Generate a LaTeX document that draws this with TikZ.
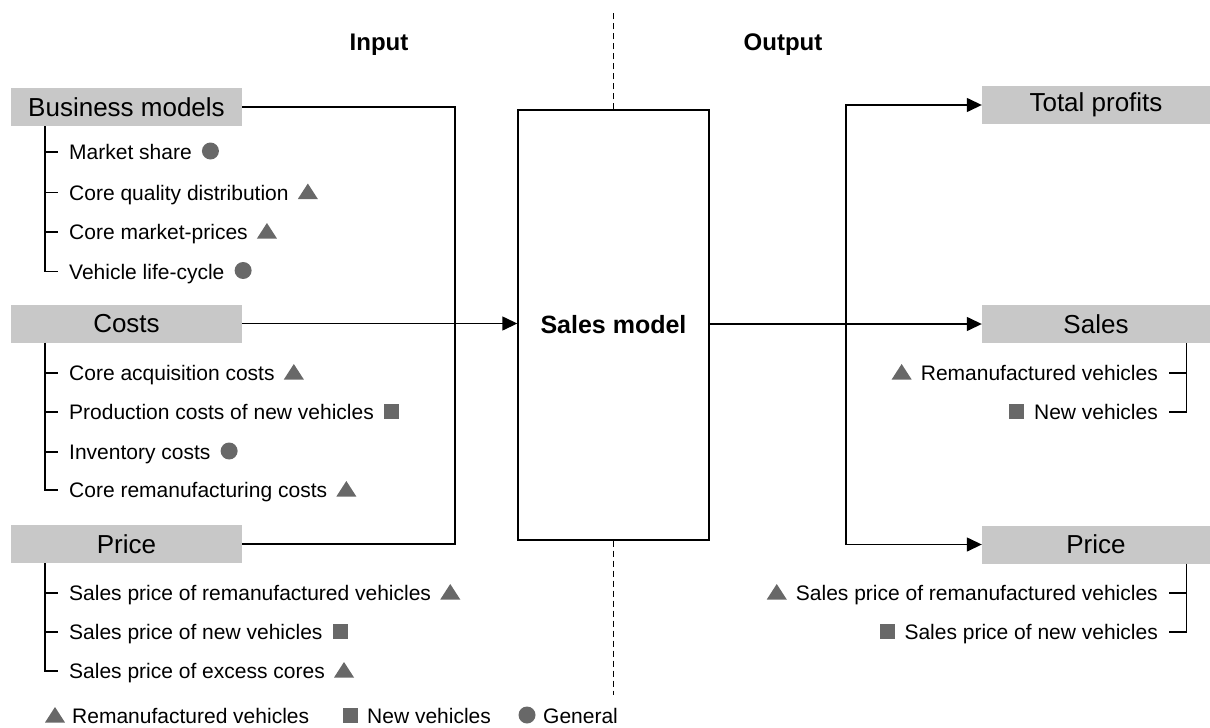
\documentclass[tikz,border=0pt]{standalone}
\usepackage{fontspec}
\setmainfont{Liberation Sans}
\usepackage{tikz}
\definecolor{boxgray}{RGB}{200,200,200}
\definecolor{symgray}{RGB}{104,104,104}
\usetikzlibrary{arrows.meta}
\tikzset{
    tri/.pic = {
    \fill[symgray] (-10,6.5) -- (10,6.5) -- (0,-9) -- cycle;
    },
    sq/.pic = {
    \fill[symgray] (-7.5,-8.5) rectangle (7.5,6.5);
    },
    dot/.pic = {
    \fill[symgray] (0,-1) circle (8.5);
    },
    hdr/.style = {fill=boxgray, minimum height=38pt, inner sep=0pt, font=\fontsize{26}{30}\selectfont},
    item/.style = {anchor=west, inner sep=0pt, text height=15pt, text depth=0pt, font=\fontsize{21}{25}\selectfont},
    ritem/.style = {item, anchor=east},
    flow/.style = {line width=1.4pt, -{Triangle[length=15pt,width=14pt]}}
}

\begin{document}
\begin{tikzpicture}[line join=miter, x=1pt, y=-1pt]
\useasboundingbox (0,0) rectangle (1210,728);
\node [font=\bfseries\fontsize{24}{28}\selectfont] (inp) at (379,45) {Input};
\node [font=\bfseries\fontsize{24}{28}\selectfont] (outp) at (783,45) {Output};
\node [draw, line width=1.4pt, minimum width=191pt, minimum height=430pt, inner sep=0pt, font=\bfseries\fontsize{25}{30}\selectfont] (model) at (613.5,325) {Sales model};
\coordinate (dtop) at (613.5,12);
\coordinate (dbot) at (613.5,695);
\draw [line width=1.3pt, dash pattern=on 6pt off 4pt] (model.north) -- (dtop);
\draw [line width=1.3pt, dash pattern=on 6pt off 4pt] (model.south) -- (dbot);
\node [hdr, minimum width=231pt] (bm) at (126.5,107) {Business models};
\node [hdr, minimum width=231pt] (co) at (126.5,323.5) {Costs};
\node [hdr, minimum width=231pt] (pr) at (126.5,544) {Price};
\node [hdr, minimum width=228pt] (tp) at (1096,105) {Total profits};
\node [hdr, minimum width=228pt] (sa) at (1096,324) {Sales};
\node [hdr, minimum width=228pt] (op) at (1096,544.5) {Price};
\node [item] (bm1) at (69,152) {Market share};
\node [item] (bm2) at (69,192.5) {Core quality distribution};
\node [item] (bm3) at (69,232) {Core market-prices};
\node [item] (bm4) at (69,271.5) {Vehicle life-cycle};
\node [item] (co1) at (69,373) {Core acquisition costs};
\node [item] (co2) at (69,412) {Production costs of new vehicles};
\node [item] (co3) at (69,452) {Inventory costs};
\node [item] (co4) at (69,490) {Core remanufacturing costs};
\node [item] (pr1) at (69,593) {Sales price of remanufactured vehicles};
\node [item] (pr2) at (69,632) {Sales price of new vehicles};
\node [item] (pr3) at (69,671) {Sales price of excess cores};
\node [ritem] (sa1) at (1158,373) {Remanufactured vehicles};
\node [ritem] (sa2) at (1158,412) {New vehicles};
\node [ritem] (op1) at (1158,593) {Sales price of remanufactured vehicles};
\node [ritem] (op2) at (1158,632) {Sales price of new vehicles};
\node [item] (lg1) at (72,716) {Remanufactured vehicles};
\node [item] (lg2) at (367,716) {New vehicles};
\node [item] (lg3) at (543,716) {General};
\path ([xshift=18.5pt]bm1.east) pic {dot};
\path ([xshift=19pt]bm2.east) pic {tri};
\path ([xshift=19pt]bm3.east) pic {tri};
\path ([xshift=18.5pt]bm4.east) pic {dot};
\path ([xshift=19pt]co1.east) pic {tri};
\path ([xshift=17.5pt]co2.east) pic {sq};
\path ([xshift=18.5pt]co3.east) pic {dot};
\path ([xshift=19pt]co4.east) pic {tri};
\path ([xshift=19pt]pr1.east) pic {tri};
\path ([xshift=17.5pt]pr2.east) pic {sq};
\path ([xshift=19pt]pr3.east) pic {tri};
\path ([xshift=-19pt]sa1.west) pic {tri};
\path ([xshift=-17pt]sa2.west) pic {sq};
\path ([xshift=-19pt]op1.west) pic {tri};
\path ([xshift=-17pt]op2.west) pic {sq};
\path ([xshift=-17pt]lg1.west) pic {tri};
\path ([xshift=-17pt]lg2.west) pic {sq};
\path ([xshift=-16pt]lg3.west) pic {dot};
\draw [line width=1.4pt] ([xshift=34pt]bm.south west) |- ([xshift=-11pt]bm4.west);
\draw [line width=1.4pt] ([xshift=-24pt]bm1.west) -- ([xshift=-11pt]bm1.west);
\draw [line width=1.4pt] ([xshift=-24pt]bm2.west) -- ([xshift=-11pt]bm2.west);
\draw [line width=1.4pt] ([xshift=-24pt]bm3.west) -- ([xshift=-11pt]bm3.west);
\draw [line width=1.4pt] ([xshift=34pt]co.south west) |- ([xshift=-11pt]co4.west);
\draw [line width=1.4pt] ([xshift=-24pt]co1.west) -- ([xshift=-11pt]co1.west);
\draw [line width=1.4pt] ([xshift=-24pt]co2.west) -- ([xshift=-11pt]co2.west);
\draw [line width=1.4pt] ([xshift=-24pt]co3.west) -- ([xshift=-11pt]co3.west);
\draw [line width=1.4pt] ([xshift=34pt]pr.south west) |- ([xshift=-11pt]pr3.west);
\draw [line width=1.4pt] ([xshift=-24pt]pr1.west) -- ([xshift=-11pt]pr1.west);
\draw [line width=1.4pt] ([xshift=-24pt]pr2.west) -- ([xshift=-11pt]pr2.west);
\draw [line width=1.4pt] ([xshift=-24pt]sa.south east) |- ([xshift=11pt]sa2.east);
\draw [line width=1.4pt] ([xshift=28pt]sa1.east) -- ([xshift=11pt]sa1.east);
\draw [line width=1.4pt] ([xshift=-24pt]op.south east) |- ([xshift=11pt]op2.east);
\draw [line width=1.4pt] ([xshift=28pt]op1.east) -- ([xshift=11pt]op1.east);
\coordinate (inbus) at (455,323.5);
\coordinate (outbus) at (846,324);
\draw [line width=1.4pt] (bm.east) -| (inbus) |- (pr.east);
\draw [flow] (co.east) -- (co.east -| model.west);
\draw [flow] (model.east |- sa.west) -- (sa.west);
\draw [flow] (outbus) |- (tp.west);
\draw [flow] (outbus) |- (op.west);
\end{tikzpicture}
\end{document}
